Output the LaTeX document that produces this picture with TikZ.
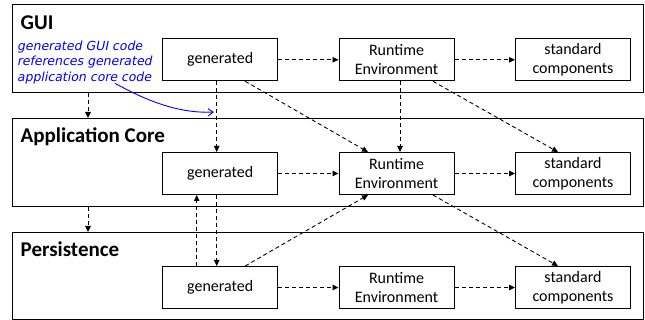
\documentclass[tikz,border=0pt]{standalone}
\usepackage{fontspec}
\setmainfont{Carlito}
\newfontfamily\notefont[FakeSlant=0.2]{DejaVu Sans}
\usetikzlibrary{arrows.meta,positioning}

\tikzset{
  layerbox/.style={draw=black, line width=1.1pt, minimum width=631pt, minimum height=88pt,
    anchor=north west, inner sep=0pt},
  layertitle/.style={anchor=base west, inner sep=0pt, font=\fontsize{21}{24}\selectfont\bfseries},
  partbox/.style={draw=black, line width=1pt, minimum width=115pt, minimum height=42pt,
    inner sep=0pt, align=center, font=\fontsize{16}{18.7}\selectfont, fill=white},
  dep/.style={draw=black, line width=0.9pt, dash pattern=on 4pt off 3pt,
    -{Triangle[length=6pt,width=5.5pt]}},
  note/.style={anchor=north west, inner sep=0pt, align=left, text=blue,
    font=\notefont\fontsize{12.5}{15.7}\selectfont},
  notearrow/.style={draw=blue, line width=0.9pt, -{Straight Barb[length=5pt,width=7pt]}}
}

\begin{document}
\begin{tikzpicture}[x=1pt,y=-1pt]
\useasboundingbox (0,0) rectangle (645,320);

% three layers
\node[layerbox] (gui)  at (12,4)   {};
\node[layerbox] (core) at (12,118) {};
\node[layerbox, minimum height=86.5pt] (pers) at (12,232) {};

\node[layertitle] (guiT)  at (20.5,30)    {GUI};
\node[layertitle] (coreT) at (20.5,143)   {Application Core};
\node[layertitle] (persT) at (20.5,256.5) {Persistence};

% parts of each layer
\node[partbox] (guigen) at (220.2,59.8) {generated};
\node[partbox] (guirt)  at (396.5,59.8) {Runtime\\Environment};
\node[partbox] (guistd) at (573,59.8)   {standard\\components};

\node[partbox] (coregen) at (220.2,173.5) {generated};
\node[partbox] (corert)  at (396.5,173.5) {Runtime\\Environment};
\node[partbox] (corestd) at (573,173.5)   {standard\\components};

\node[partbox] (persgen) at (220.2,287.5) {generated};
\node[partbox] (persrt)  at (396.5,287.5) {Runtime\\Environment};
\node[partbox] (persstd) at (573,287.5)   {standard\\components};

% annotation
\node[note] (ann) at (17,40.5) {generated GUI code\\references generated\\application core code};
\coordinate (annEnd) at (214,112);
\draw[notearrow] ([xshift=-37pt,yshift=1pt]ann.south east) .. controls (140,97) and (175,114) .. (annEnd);

% dependencies inside the layers
\draw[dep] (guigen) -- (guirt);
\draw[dep] (guirt) -- (guistd);
\draw[dep] (coregen) -- (corert);
\draw[dep] (corert) -- (corestd);
\draw[dep] (persgen) -- (persrt);
\draw[dep] (persrt) -- (persstd);

% layer to layer
\draw[dep] ([xshift=76pt]gui.south west) -- ([xshift=76pt]core.north west);
\draw[dep] ([xshift=76pt]core.south west) -- ([xshift=76pt]pers.north west);

% GUI to application core
\draw[dep] ([xshift=-3.5pt]guigen.south) -- ([xshift=-3.5pt]coregen.north);
\draw[dep] ([xshift=25pt]guigen.south) -- ([xshift=-28.5pt]corert.north);
\draw[dep] ([xshift=3.5pt]guirt.south) -- ([xshift=3.5pt]corert.north);
\draw[dep] ([xshift=36.5pt]guirt.south) -- ([xshift=-15pt]corestd.north);

% application core to persistence
\draw[dep] ([xshift=-3.5pt]coregen.south) -- ([xshift=-3.5pt]persgen.north);
\draw[dep] ([xshift=-23.5pt]persgen.north) -- ([xshift=-23.5pt]coregen.south);
\draw[dep] ([xshift=25pt]persgen.north) -- ([xshift=-28.5pt]corert.south);
\draw[dep] ([xshift=36.5pt]corert.south) -- ([xshift=-15pt]persstd.north);
\end{tikzpicture}
\end{document}
